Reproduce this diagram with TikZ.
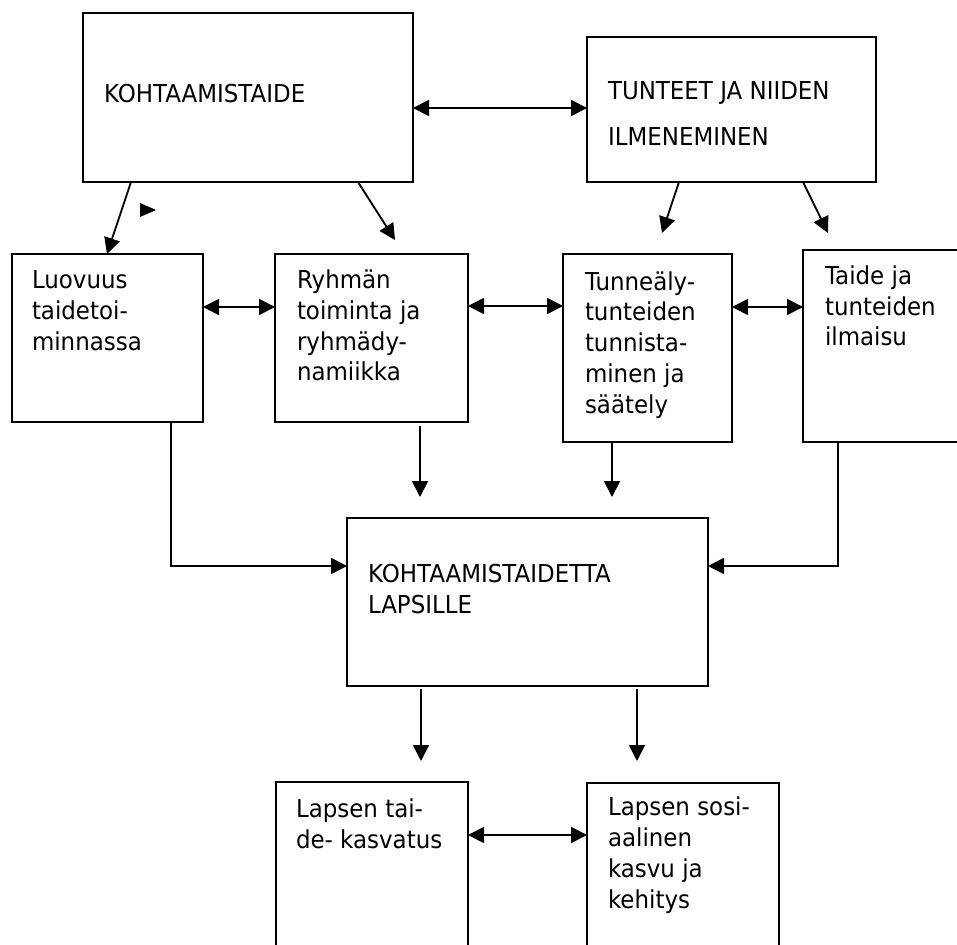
\documentclass[tikz,border=0pt]{standalone}
\usepackage{fontspec}
\setmainfont{DejaVu Sans}[FakeStretch=0.93]
\usetikzlibrary{arrows.meta,calc}
\tikzset{
  box/.style={draw, line width=1.6pt, inner sep=0pt, outer sep=0pt, anchor=north west},
  tip/.style={},
  conn/.style={line width=1.4pt, -{Triangle[length=12pt,width=12pt]}},
  bconn/.style={line width=1.4pt, {Triangle[length=12pt,width=12pt]}-{Triangle[length=12pt,width=12pt]}},
  txt/.style={anchor=base west, inner sep=0pt, outer sep=0pt, font=\fontsize{18.5}{23.25}\selectfont},
}
\newcommand\mkbox[5]{\node[box, minimum width=#4*0.75pt, minimum height=#5*0.75pt] (#1) at (#2,#3) {};}
\begin{document}
\begin{tikzpicture}[x=0.75pt, y=-0.75pt]
\clip (0,0) rectangle (957,945);
\fill[white] (0,0) rectangle (957,945);
% boxes
\mkbox{k1}{83}{13}{330}{169}
\mkbox{t1}{587}{37}{289}{145}
\mkbox{lu}{12}{254}{191}{168}
\mkbox{ry}{275}{254}{193}{168}
\mkbox{tu}{563}{254}{169}{188}
\mkbox{ta}{803}{250}{170}{192}
\mkbox{k2}{347}{518}{361}{168}
\mkbox{la}{276}{782}{192}{180}
\mkbox{lb}{587}{783}{192}{180}
% texts
\node[txt] (k1t) at (104,103) {KOHTAAMISTAIDE};
\node[txt] (t1t) at (608,100) {\begin{tabular}[t]{@{}l@{}}TUNTEET JA NIIDEN\\[11.25pt]ILMENEMINEN\end{tabular}};
\node[txt] (lut) at (32,288) {\begin{tabular}[t]{@{}l@{}}Luovuus\\taidetoi-\\minnassa\end{tabular}};
\node[txt] (ryt) at (297,288) {\begin{tabular}[t]{@{}l@{}}Ryhmän\\toiminta ja\\ryhmädy-\\namiikka\end{tabular}};
\node[txt] (tut) at (585,290) {\begin{tabular}[t]{@{}l@{}}Tunneäly-\\tunteiden\\tunnista-\\minen ja\\säätely\end{tabular}};
\node[txt] (tat) at (825,284) {\begin{tabular}[t]{@{}l@{}}Taide ja\\tunteiden\\ilmaisu\end{tabular}};
\node[txt] (k2t) at (368,582) {\begin{tabular}[t]{@{}l@{}}KOHTAAMISTAIDETTA\\LAPSILLE\end{tabular}};
\node[txt] (lat) at (296,817) {\begin{tabular}[t]{@{}l@{}}Lapsen tai-\\de- kasvatus\end{tabular}};
\node[txt] (lbt) at (608,815) {\begin{tabular}[t]{@{}l@{}}Lapsen sosi-\\aalinen\\kasvu ja\\kehitys\end{tabular}};
% stray arrowhead
\fill (140,203) -- (156,210) -- (140,217) -- cycle;
% connectors
\draw[bconn] ($(k1.north east)+(0,95)$) -- ($(t1.north west)+(0,71)$);
\draw[conn] ($(k1.south west)+(48,0)$) -- ($(lu.north west)+(95,0)$);
\draw[conn] ($(k1.south west)+(275,0)$) -- ($(ry.north west)+(120,-14)$);
\draw[conn] ($(t1.south west)+(92,0)$) -- ($(tu.north west)+(99,-21)$);
\draw[conn] ($(t1.south west)+(216,0)$) -- ($(ta.north west)+(25,-17)$);
\draw[bconn] ($(lu.north east)+(0,53)$) -- ($(ry.north west)+(0,53)$);
\draw[bconn] ($(ry.north east)+(0,52)$) -- ($(tu.north west)+(0,52)$);
\draw[bconn] ($(tu.north east)+(0,53)$) -- ($(ta.north west)+(0,57)$);
\draw[conn] ($(lu.south west)+(159,0)$) |- ($(k2.north west)+(0,48)$);
\draw[conn] ($(ry.south west)+(145,4)$) -- ($(k2.north west)+(73,-21)$);
\draw[conn] ($(tu.south west)+(49,0)$) -- ($(k2.north west)+(265,-21)$);
\draw[conn] ($(ta.south west)+(35,0)$) |- ($(k2.north east)+(0,48)$);
\draw[conn] ($(k2.south west)+(74,3)$) -- ($(la.north west)+(145,-21)$);
\draw[conn] ($(k2.south west)+(290,3)$) -- ($(lb.north west)+(50,-22)$);
\draw[bconn] ($(la.north east)+(0,53)$) -- ($(lb.north west)+(0,52)$);
\end{tikzpicture}
\end{document}
